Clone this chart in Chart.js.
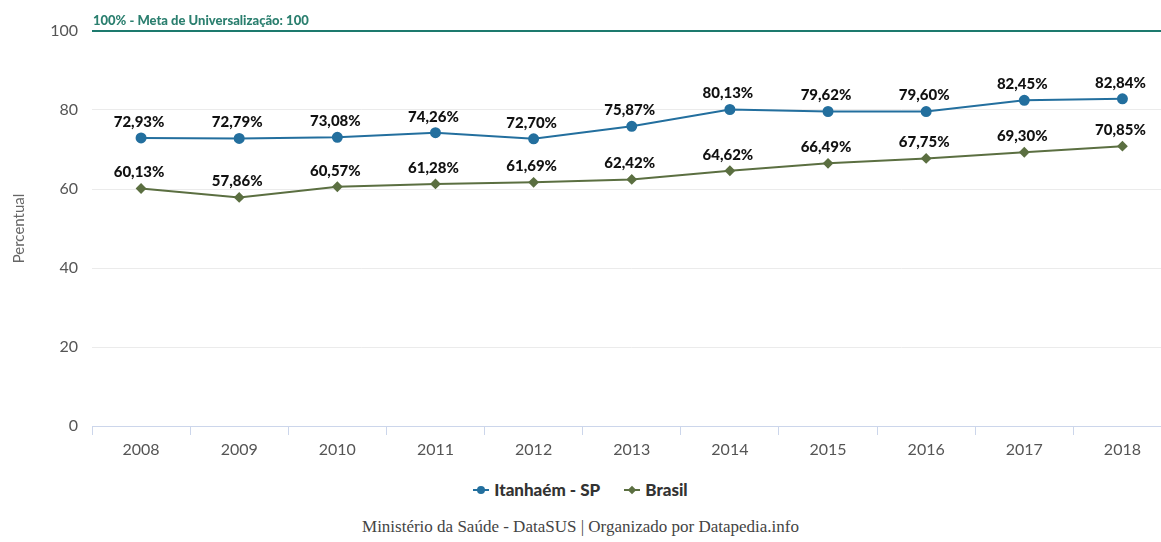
<!DOCTYPE html>
<html>
<head>
<meta charset="utf-8">
<script src="https://cdn.jsdelivr.net/npm/chart.js@4/dist/chart.umd.min.js"></script>
<style>
  html, body { margin: 0; padding: 0; background: #fff; overflow: hidden; }
  #wrap { position: relative; width: 1161px; height: 542px; overflow: hidden; }
  #c { position: absolute; left: 0; top: 0; }
  #legend { position: absolute; left: 0; width: 1161px; top: 479px; text-align: center;
    font-family: Lato, sans-serif; font-weight: 900; font-size: 17px; color: #333; }
  #legend span.item { margin: 0 10px; }
  .mk { display: inline-block; position: relative; width: 16px; height: 10px; margin-right: 5px; vertical-align: 1px; }
  .mk i { position: absolute; left: 0; right: 0; top: 4px; height: 2px; }
  .mk b { position: absolute; left: 4px; top: 1px; width: 8px; height: 8px; }
  #footer { position: absolute; left: 0; width: 1161px; top: 517px; text-align: center;
    font-family: "Liberation Serif", serif; font-size: 17px; color: #444; }
</style>
</head>
<body>
<div id="wrap">
  <canvas id="c" width="1178" height="462" style="width:1178px;height:462px"></canvas>
  <div id="legend">
    <span class="item"><span class="mk"><i style="background:#236f9e"></i><b style="background:#236f9e;border-radius:50%"></b></span>Itanhaém - SP</span>
    <span class="item"><span class="mk"><i style="background:#5b6f41"></i><b style="background:#5b6f41;transform:rotate(45deg) scale(0.75)"></b></span>Brasil</span>
  </div>
  <div id="footer">Ministério da Saúde - DataSUS | Organizado por Datapedia.info</div>
</div>
<script>
const years = ['2008', '2009', '2010', '2011', '2012', '2013', '2014', '2015', '2016', '2017', '2018'];
const itanhaem = [72.93, 72.79, 73.08, 74.26, 72.70, 75.87, 80.13, 79.62, 79.60, 82.45, 82.84];
const brasil = [60.13, 57.86, 60.57, 61.28, 61.69, 62.42, 64.62, 66.49, 67.75, 69.30, 70.85];
const metaValue = 100;
const metaLabel = '100% - Meta de Universalização: 100';

const blue = '#236f9e';
const green = '#5b6f41';
const teal = '#1d7a6e';

// goal line at 100
const metaLine = {
    id: 'metaLine',
    beforeDatasetsDraw(chart) {
        const ctx = chart.ctx;
        const y = chart.scales.y.getPixelForValue(metaValue);
        ctx.save();
        ctx.strokeStyle = teal;
        ctx.lineWidth = 2;
        ctx.beginPath();
        ctx.moveTo(chart.chartArea.left, y);
        ctx.lineTo(chart.width, y);
        ctx.stroke();
        ctx.fillStyle = '#2b7f6f';
        ctx.font = '900 13px Lato';
        ctx.textAlign = 'left';
        ctx.textBaseline = 'alphabetic';
        ctx.fillText(metaLabel, chart.chartArea.left + 1, y - 6);
        ctx.restore();
    }
};

// value labels over each point
const valueLabels = {
    id: 'valueLabels',
    afterDatasetsDraw(chart) {
        const ctx = chart.ctx;
        ctx.save();
        ctx.font = '900 15px Lato';
        ctx.fillStyle = '#111';
        ctx.textAlign = 'center';
        ctx.textBaseline = 'middle';
        chart.data.datasets.forEach((ds, i) => {
            chart.getDatasetMeta(i).data.forEach((pt, j) => {
                const txt = ds.data[j].toFixed(2).replace('.', ',') + '%';
                ctx.fillText(txt, pt.x - 2, pt.y - 16);
            });
        });
        ctx.restore();
    }
};

const ctx = document.getElementById('c').getContext('2d');
new Chart(ctx, {
    type: 'line',
    data: {
        labels: years,
        datasets: [{
            label: 'Itanhaém - SP',
            data: itanhaem,
            borderColor: blue,
            backgroundColor: blue,
            borderWidth: 2,
            pointStyle: 'circle',
            pointRadius: 4.5,
            tension: 0
        }, {
            label: 'Brasil',
            data: brasil,
            borderColor: green,
            backgroundColor: green,
            borderWidth: 2,
            pointStyle: 'rectRot',
            pointRadius: 4,
            tension: 0
        }]
    },
    options: {
        responsive: false,
        animation: false,
        layout: { padding: { top: 31, right: 0, bottom: 0, left: 0 } },
        plugins: {
            legend: { display: false },
            tooltip: { enabled: false }
        },
        scales: {
            x: {
                offset: true,
                afterFit(scale) { scale.height = 36; },
                grid: {
                    offset: true,
                    drawOnChartArea: false,
                    tickLength: 9,
                    color: '#ccd6eb'
                },
                border: { color: '#ccd6eb' },
                ticks: { color: '#555', font: { family: 'Lato', size: 16 }, padding: 5 }
            },
            y: {
                min: 0,
                max: 100,
                afterFit(scale) { scale.width = 92; },
                grid: { color: '#ebebeb', drawTicks: false },
                border: { display: false },
                ticks: { stepSize: 20, color: '#555', font: { family: 'Lato', size: 16 }, padding: 14 },
                title: {
                    display: true,
                    text: 'Percentual',
                    color: '#666',
                    font: { family: 'Lato', size: 15 },
                    padding: { top: 10, bottom: 0 }
                }
            }
        }
    },
    plugins: [metaLine, valueLabels]
});
</script>
</body>
</html>
